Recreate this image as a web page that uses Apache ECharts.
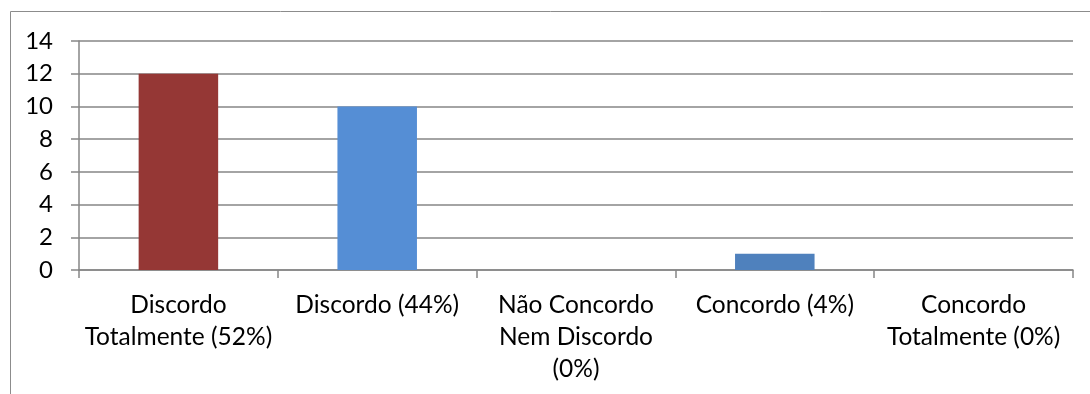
<!DOCTYPE html>
<html>
<head>
<meta charset="utf-8">
<script src="https://cdn.jsdelivr.net/npm/echarts@6/dist/echarts.min.js"></script>
<style>
html, body { margin: 0; padding: 0; background: #fff; }
#chart { width: 1090px; height: 394px; }
</style>
</head>
<body>
<div id="chart"></div>
<script>
// categorias e valores
var categories = ['Discordo\nTotalmente (52%)', 'Discordo (44%)', 'Não Concordo\nNem Discordo\n(0%)', 'Concordo (4%)', 'Concordo\nTotalmente (0%)'];
var values = [12, 10, 0, 1, 0];
var barColors = ['#953735', '#558ED5', '#4F81BD', '#4F81BD', '#4F81BD'];
var yTicks = [0, 2, 4, 6, 8, 10, 12, 14];

var chart = echarts.init(document.getElementById('chart'));
var gray = '#868686';

chart.setOption({
    animation: false,
    textStyle: { fontFamily: 'Lato' },
    grid: { left: 79, right: 17, top: 41, bottom: 124 },
    graphic: [{
        type: 'rect',
        shape: { x: 10.5, y: 11.5, width: 1200, height: 500 },
        style: { fill: 'none', stroke: '#8c8c8c', lineWidth: 1 },
        silent: true
    }],
    xAxis: {
        type: 'category',
        data: categories,
        axisLine: { lineStyle: { color: gray, width: 1.5 } },
        axisTick: { show: true, length: 8, lineStyle: { color: gray, width: 1.5 } },
        axisLabel: { color: '#000', fontSize: 24.5, lineHeight: 32, margin: 19, interval: 0 }
    },
    yAxis: {
        type: 'value',
        min: yTicks[0],
        max: yTicks[yTicks.length - 1],
        interval: 2,
        axisLine: { show: true, lineStyle: { color: gray, width: 1.5 } },
        axisTick: { show: true, length: 8, lineStyle: { color: gray, width: 1.5 } },
        axisLabel: { color: '#000', fontSize: 24, margin: 26 },
        splitLine: { lineStyle: { color: gray, width: 1.5 } }
    },
    series: [{
        type: 'bar',
        barWidth: '40%',
        data: values.map(function (v, i) {
            return { value: v, itemStyle: { color: barColors[i] } };
        })
    }]
});
</script>
</body>
</html>
